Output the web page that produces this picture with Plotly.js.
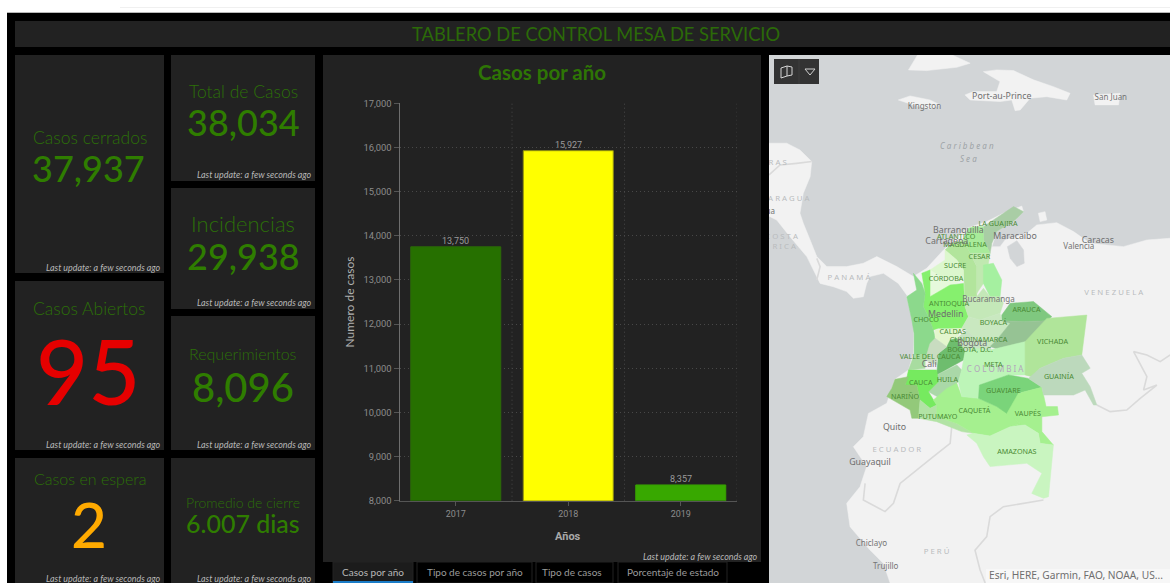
<!DOCTYPE html>
<html lang="es">
<head>
<meta charset="utf-8">
<title>Tablero de control mesa de servicio</title>
<script src="https://cdn.plot.ly/plotly-3.0.1.min.js"></script>
<style>html,body{margin:0;padding:0;background:#fff;overflow:hidden}#tablero{width:1170px;height:583px}</style>
</head>
<body>
<div id="tablero"></div>
<script>
// Casos por año
const anios = ['2017', '2018', '2019'];
const casosPorAnio = [13750, 15927, 8357];
const ticksCasos = [8000, 9000, 10000, 11000, 12000, 13000, 14000, 15000, 16000, 17000];

// Indicadores
const tarjetas = ['Casos cerrados', 'Total de Casos', 'Incidencias', 'Casos Abiertos', 'Requerimientos', 'Casos en espera', 'Promedio de cierre'];
const valoresTarjetas = ['37,937', '38,034', '29,938', '95', '8,096', '2', '6.007 dias'];
const pestanas = ['Casos por año', 'Tipo de casos por año', 'Tipo de casos', 'Porcentaje de estado'];

// Contornos del mapa base, [longitud, latitud]
const centroamerica = [[-86,16.12],[-84.66,16.12],[-83.9,15.73],[-83.23,15.07],[-83.32,14.21],[-83.71,13.26],[-83.9,12.12],[-83.71,11.54],[-83.32,10.59],[-82.94,9.64],[-82.37,9.07],[-81.23,9.07],[-80.28,9.26],[-79.51,9.64],[-78.37,9.07],[-77.42,8.5],[-77.23,7.54],[-77.8,7.45],[-78.28,8.11],[-79.13,8.69],[-79.9,8.5],[-80.09,8.11],[-80.28,7.35],[-80.85,7.26],[-81.23,7.64],[-81.99,7.92],[-82.75,8.11],[-83.13,8.88],[-83.51,9.64],[-84.47,10.78],[-85.23,11.73],[-86,12.12]];
const suramerica = [[-77.42,8.5],[-76.66,8.97],[-75.7,10.02],[-74.37,11.26],[-73.23,11.64],[-72.28,12.12],[-71.23,12.53],[-71.13,12.21],[-71.61,11.73],[-72.66,11.07],[-72.94,10.21],[-72.47,10.21],[-72.18,10.59],[-70.94,10.97],[-70.37,11.45],[-69.23,11.58],[-68.27,11.07],[-67.32,10.4],[-65.42,10.21],[-64.08,10.59],[-62.75,10.69],[-62,10.69],[-62,-10],[-78.75,-10],[-78.75,-9.01],[-79.13,-7.89],[-79.9,-7.13],[-81.04,-5.79],[-81.23,-4.46],[-80.47,-3.51],[-80.09,-2.36],[-80.85,-1.22],[-80.28,-0.65],[-79.99,0.68],[-78.94,1.26],[-78.66,2.11],[-78.47,2.63],[-77.7,3.16],[-77.42,4.11],[-77.38,5.64],[-77.8,7.35]];
const jamaica = [[-78.28,18.59],[-77.61,18.82],[-76.47,18.59],[-75.89,18.31],[-76.47,18.06],[-77.42,18.31]];
const cuba = [[-77.7,20.31],[-77.1,21.3],[-75.5,21.3],[-74.18,20.69],[-74.94,20.46],[-76.66,20.27]];
const lahispaniola = [[-73.42,20.21],[-72.66,20.31],[-71.7,20.27],[-70.56,19.74],[-69.42,19.35],[-68.47,18.97],[-68.66,18.59],[-69.8,18.78],[-70.75,18.69],[-71.32,18.02],[-71.61,17.98],[-71.8,18.59],[-72.47,18.5],[-74.18,18.59],[-74.47,18.88],[-73.99,19.07],[-72.66,19.07],[-72.47,19.64]];
const puertoRico = [[-67.13,18.88],[-65.61,18.97],[-65.7,18.31],[-67.04,18.31]];
const aruba = [[-70.28,12.12],[-69.9,12.21],[-69.8,11.73],[-70.18,11.64]];
const lagoMaracaibo = [[-72.05,10.21],[-71.51,10.55],[-71.13,10.02],[-71.09,9.26],[-71.51,9.07],[-71.89,9.54]];

// Fronteras entre países
const fronteraHonduras = [[-85.67,14.31],[-85.04,14.88],[-84.09,14.97],[-83.23,15.07]];
const fronteraPanama = [[-82.94,9.54],[-82.75,9.07],[-82.94,8.3]];
const fronteraEcuador = [[-75.23,-0.08],[-75.32,-1.03],[-76.28,-1.79],[-78.18,-3.32],[-78.56,-4.46],[-79.04,-4.93],[-80.28,-4.27],[-80.18,-3.32]];
const fronteraBrasil = [[-69.99,-4.27],[-72.28,-4.65],[-73.04,-5.22],[-73.23,-6.36],[-73.9,-7.13],[-73.61,-8.27],[-73.32,-9.01]];
const fronteraVenezuela = [[-66.94,1.16],[-66.18,0.78],[-65.23,0.87],[-64.46,1.54],[-63.51,2.3],[-64.27,2.02],[-64.08,2.78],[-64.84,4.21],[-64.08,4.02],[-63.32,3.64],[-62.75,4.02]];

// Departamentos de Colombia
const guajira = [[-73.42,11.35],[-72.28,12.12],[-71.7,12.5],[-71.13,12.21],[-71.61,11.73],[-72.66,11.07],[-72.94,10.4],[-73.04,9.83],[-73.42,10.59]];
const atlantico = [[-74.28,11.26],[-73.99,11.35],[-73.7,10.78],[-74.18,10.5],[-74.56,10.59]];
const magdalena = [[-73.99,11.35],[-73.42,11.35],[-73.42,10.59],[-73.04,9.83],[-74.18,9.83],[-74.56,10.59]];
const bolivar = [[-75.61,10.02],[-75.23,10.4],[-74.56,10.59],[-74.18,9.83],[-73.8,9.07],[-73.8,7.35],[-74.47,7.35],[-74.56,8.88],[-74.94,9.45]];
const cesar = [[-74.18,9.83],[-73.04,9.83],[-73.13,9.26],[-73.42,8.11],[-73.8,7.54],[-73.8,9.07]];
const sucre = [[-75.61,10.02],[-74.94,9.45],[-74.56,8.88],[-74.56,8.31],[-75.89,8.5],[-76.47,8.88],[-75.61,9.45]];
const cordoba = [[-76.47,8.88],[-75.89,8.5],[-74.56,8.31],[-75.32,8.02],[-76.47,7.35]];
const antioquia = [[-76.94,8.69],[-76.47,8.88],[-76.47,7.35],[-75.32,8.02],[-74.56,8.11],[-74.47,6.78],[-74.28,6.21],[-74.66,5.54],[-75.99,5.54],[-76.28,5.45],[-76.56,6.21],[-76.85,6.78],[-76.75,7.54]];
const choco = [[-77.42,8.69],[-76.94,8.11],[-76.75,7.54],[-76.85,6.78],[-76.56,6.21],[-76.28,5.45],[-76.09,4.69],[-76.18,4.11],[-77.38,4.02],[-77.38,5.26],[-77.51,6.02],[-77.8,7.35],[-77.23,7.73]];
const norteSantander = [[-73.42,9.16],[-72.85,9.26],[-72.37,8.31],[-72.47,7.35],[-73.04,7.35],[-73.42,8.11]];
const santander = [[-73.8,7.35],[-73.42,7.83],[-73.04,7.35],[-72.47,7.35],[-72.28,6.97],[-72.47,6.4],[-73.61,6.02],[-74.28,6.21],[-74.47,6.78],[-74.47,7.35]];
const arauca = [[-72.37,6.3],[-71.89,6.97],[-70.56,7.07],[-69.51,6.21],[-69.8,5.98],[-71.13,5.92],[-72.37,5.98]];
const boyaca = [[-74.28,6.21],[-73.61,6.02],[-72.47,6.4],[-72.37,5.98],[-71.89,5.83],[-72.66,4.88],[-73.04,4.5],[-73.8,4.88],[-74.37,5.45],[-74.66,5.54]];
const casanare = [[-72.37,5.98],[-71.13,5.92],[-69.8,5.98],[-70.18,5.26],[-71.04,4.78],[-72.47,4.31],[-73.04,4.5],[-72.66,4.88],[-71.89,5.83]];
const cundinamarca = [[-74.37,5.45],[-73.8,4.88],[-73.04,4.5],[-72.94,4.21],[-73.99,4.02],[-74.47,4.21],[-74.94,4.97]];
const caldas = [[-76.18,5.45],[-74.66,5.54],[-74.94,4.97],[-75.32,4.87],[-75.51,4.49],[-76.18,4.97]];
const tolima = [[-75.32,4.87],[-74.94,4.97],[-74.47,4.21],[-74.56,3.73],[-76.09,2.88],[-75.99,4.11],[-75.51,4.49]];
const risaralda = [[-76.47,4.68],[-76.18,4.97],[-75.51,4.49],[-75.99,4.11],[-76.09,3.45],[-76.75,3.73]];
const valle = [[-77.38,4.02],[-76.5,4.02],[-76.75,3.73],[-76.75,3.26],[-77.7,3.16]];
const huila = [[-76.09,2.88],[-74.94,3.45],[-74.66,3.16],[-74.85,2.49],[-75.89,1.54],[-76.56,1.92],[-75.99,2.49]];
const cauca = [[-77.7,3.16],[-76.09,3.16],[-75.99,2.49],[-76.56,1.92],[-76.09,1.16],[-76.47,0.97],[-77.04,1.45],[-77.23,2.3],[-77.89,2.3]];
const narino = [[-78.47,2.63],[-77.7,2.78],[-77.89,2.3],[-77.23,2.3],[-77.04,1.45],[-77.13,0.4],[-77.51,0.4],[-77.61,0.87],[-78.94,1.64],[-78.66,2.11]];
const putumayo = [[-77.04,1.45],[-76.47,0.97],[-76.09,1.16],[-76.09,0.49],[-74.94,0.11],[-73.99,-0.46],[-74.66,-0.36],[-76.09,0.21],[-77.13,0.4]];
const caqueta = [[-76.28,1.45],[-75.51,2.11],[-74.94,2.4],[-74.66,1.64],[-73.7,1.54],[-72.66,1.07],[-71.99,0.68],[-71.32,0.11],[-71.89,-0.08],[-73.04,-0.61],[-73.99,-0.46],[-74.94,0.11],[-76.09,0.49],[-76.09,1.16]];
const meta = [[-74.47,4.21],[-73.99,4.4],[-73.04,4.3],[-71.04,4.78],[-71.04,2.88],[-71.99,2.88],[-73.65,2.3],[-73.7,1.54],[-74.66,1.64],[-74.85,2.49],[-74.66,3.16],[-74.56,3.73]];
const guaviare = [[-73.65,2.3],[-71.99,2.88],[-70.85,2.68],[-70.08,2.17],[-71.42,1.83],[-71.61,1.16],[-72.08,0.68],[-72.66,1.07],[-73.7,1.54]];
const vaupes = [[-71.42,1.83],[-70.08,2.17],[-69.84,1.07],[-69.19,1.07],[-69.13,0.59],[-70.08,0.49],[-70.08,-0.36],[-69.42,-1.13],[-70.18,-1.03],[-70.28,-0.46],[-71.04,0.02],[-71.89,-0.08],[-71.32,0.11],[-72.08,0.68]];
const vichada = [[-71.04,4.78],[-69.8,6.11],[-67.51,6.3],[-67.8,4.02],[-68.85,3.83],[-70.18,3.26],[-70.66,2.78],[-71.04,2.88]];
const guainia = [[-70.85,2.68],[-70.18,3.26],[-68.85,3.83],[-67.8,4.02],[-67.32,3.26],[-67.8,2.97],[-67.32,2.21],[-66.94,1.16],[-67.13,1.16],[-67.61,2.02],[-68.27,1.73],[-69.99,1.73],[-70.08,2.17]];
const amazonas = [[-74.37,-0.55],[-73.99,-0.46],[-73.04,-0.61],[-71.89,-0.08],[-71.04,0.02],[-70.28,-0.46],[-70.18,-1.03],[-69.42,-1.13],[-69.7,-4.08],[-69.99,-4.17],[-70.66,-3.89],[-70.08,-2.74],[-70.94,-2.17],[-73.04,-2.36],[-73.42,-1.79],[-73.8,-1.03]];

// Etiquetas del mapa: [texto, longitud, latitud]
const ciudadesMayores = [['Port-au-Prince',-72.37,18.77],['Barranquilla',-74.85,11.09],['Cartagena',-75.51,10.5],['Maracaibo',-71.61,10.76],['Caracas',-66.88,10.57],['Medellin',-75.57,6.3],['Bogota',-74.06,4.65],['Cali',-76.52,3.48],['Quito',-78.5,-0.17],['Guayaquil',-79.9,-2.14]];
const ciudadesMenores = [['Kingston',-76.79,18.2],['San Juan',-66.14,18.7],['Valencia',-67.97,10.21],['Bucaramanga',-73.13,7.16],['Chiclayo',-79.82,-6.77],['Trujillo',-79,-8.1],['Managua',-86.35,12.2]];
const departamentos = [['LA GUAJIRA',-72.58,11.52],['ATLÁNTICO',-74.98,10.74],['MAGDALENA',-74.47,10.29],['CESAR',-73.65,9.6],['SUCRE',-75.04,9.12],['CÓRDOBA',-75.55,8.36],['ANTIOQUIA',-75.38,6.91],['ARAUCA',-70.96,6.57],['CHOCÓ',-76.69,5.98],['BOYACÁ',-72.85,5.81],['CALDAS',-75.17,5.33],['CUNDINAMARCA',-73.7,4.84],['BOGOTÁ, D.C.',-74.18,4.32],['VALLE DEL CAUCA',-76.47,3.88],['HUILA',-75.48,2.57],['CAUCA',-77,2.38],['NARIÑO',-77.9,1.58],['PUTUMAYO',-76.03,0.47],['CAQUETÁ',-73.93,0.82],['META',-72.85,3.41],['GUAVIARE',-72.28,1.94],['VAUPÉS',-70.88,0.63],['VICHADA',-69.47,4.74],['GUAINÍA',-69.11,2.74],['AMAZONAS',-71.51,-1.54]];
const paises = [['H O N D U R A S',-86.3,15.0],['N I C A R A G U A',-85.1,12.95],['C O S T A',-84.95,10.75],['R I C A',-84.8,10.2],['P A N A M Á',-81.1,8.43],['V E N E Z U E L A',-65.97,7.53],['E C U A D O R',-78.37,-1.41],['P E R Ú',-76.1,-7.22]];
const marCaribe = [['C a r i b b e a n',-74.37,15.9],['S e a',-74.28,15.15]];

// Colores
const verdeOscuro = '#267000', verdeClaro = '#38a800', amarillo = '#ffff00';
const colorTarjeta = '#222222';
const colorEtiqueta = '#2c7008', colorValor = '#2f7d00';
const mar = '#d2d5d7', tierra = '#f2f2f2', frontera = '#dadada';

const coloresDepartamentos = [
  [guajira, '#a9cda5'], [atlantico, '#a3e89b'], [magdalena, '#a8eb9a'], [bolivar, '#b2e59c'],
  [cesar, '#c0e9b0'], [sucre, '#dcf7cd'], [cordoba, '#e6f9dc'], [antioquia, '#86f06e'],
  [choco, '#8cd98c'], [norteSantander, '#a5f0a0'], [santander, '#c4e8b8'], [arauca, '#7fc87f'],
  [boyaca, '#c9e8c0'], [casanare, '#96c394'], [cundinamarca, '#c8e3c3'], [caldas, '#e3f6cd'],
  [tolima, '#6ebd6e'], [risaralda, '#c8dcc0'], [valle, '#a8dca0'], [huila, '#aad8a8'],
  [cauca, '#76ea5f'], [narino, '#93c97a'], [putumayo, '#b2e3a5'], [caqueta, '#a5f08f'],
  [meta, '#bdf5b8'], [guaviare, '#7ad47a'], [vaupes, '#a5f08f'], [vichada, '#b0e59a'],
  [guainia, '#bcd9bc'], [amazonas, '#c9f5c0']
];

const ANCHO = 1170, ALTO = 583;
const fx = x => x / ANCHO;
const fy = y => 1 - y / ALTO;

// Relleno en el mapa a partir de un contorno
function contorno(poligono, color, borde) {
  return {
    type: 'scatter', mode: 'lines', xaxis: 'x2', yaxis: 'y2',
    x: poligono.map(p => p[0]).concat(poligono[0][0]),
    y: poligono.map(p => p[1]).concat(poligono[0][1]),
    fill: 'toself', fillcolor: color,
    line: { color: borde || color, width: 0.5 },
    hoverinfo: 'skip', showlegend: false
  };
}
function linea(puntos) {
  return {
    type: 'scatter', mode: 'lines', xaxis: 'x2', yaxis: 'y2',
    x: puntos.map(p => p[0]), y: puntos.map(p => p[1]),
    line: { color: frontera, width: 1.6 }, hoverinfo: 'skip', showlegend: false
  };
}
function rotulos(lista, fuente) {
  return {
    type: 'scatter', mode: 'text', xaxis: 'x2', yaxis: 'y2',
    x: lista.map(r => r[1]), y: lista.map(r => r[2]), text: lista.map(r => r[0]),
    textposition: 'middle center', textfont: fuente, hoverinfo: 'skip', showlegend: false
  };
}

const trazas = [{
  type: 'bar', x: anios, y: casosPorAnio,
  marker: { color: [verdeOscuro, amarillo, verdeClaro], line: { color: ['#2c6a08', '#8f8f10', '#38a000'], width: 1 } },
  width: 0.8,
  hoverinfo: 'skip', showlegend: false
}];

const letraMapa = 'Noto Sans, sans-serif';
[centroamerica, suramerica, jamaica, cuba, lahispaniola, puertoRico, aruba].forEach(p => trazas.push(contorno(p, tierra)));
trazas.push(contorno(lagoMaracaibo, mar));
[fronteraHonduras, fronteraPanama, fronteraEcuador, fronteraBrasil, fronteraVenezuela].forEach(l => trazas.push(linea(l)));
coloresDepartamentos.forEach(d => trazas.push(contorno(d[0], d[1])));
trazas.push(rotulos(paises, { family: letraMapa, size: 7.8, color: '#b9bcbe' }));
trazas.push(rotulos([['C O L O M B I A', -72.75, 3.14]], { family: letraMapa, size: 8, color: '#b3a4bc' }));
trazas.push(rotulos(departamentos, { family: letraMapa, size: 7.2, color: '#4a8a34' }));
trazas.push(rotulos(ciudadesMayores, { family: letraMapa, size: 8.8, color: '#6e6e6e' }));
trazas.push(rotulos(ciudadesMenores, { family: letraMapa, size: 8, color: '#747474' }));
trazas.push(rotulos(marCaribe, { family: letraMapa, size: 8, color: '#9da3a6', style: 'italic' }));

// Fondos de los paneles
function caja(x0, y0, x1, y1, color, capa) {
  return { type: 'rect', xref: 'paper', yref: 'paper', x0: fx(x0), x1: fx(x1), y0: fy(y1), y1: fy(y0),
           fillcolor: color, line: { width: 0 }, layer: capa || 'below' };
}
const paneles = [
  [15, 21, 1170, 47], [15, 55, 164, 273], [171, 55, 315, 181], [171, 188, 315, 309],
  [15, 281, 164, 450], [171, 316, 315, 450], [15, 458, 164, 583], [171, 458, 315, 583],
  [323, 55, 761, 562]
];
const formas = [caja(7, 13, 1170, 583, '#000000')];
formas.push({ type: 'line', xref: 'paper', yref: 'paper', x0: fx(7), x1: fx(1170), y0: fy(12.5), y1: fy(12.5), line: { color: '#b8b8b8', width: 1 }, layer: 'below' });
formas.push({ type: 'line', xref: 'paper', yref: 'paper', x0: fx(120), x1: fx(1170), y0: fy(7.5), y1: fy(7.5), line: { color: '#f0f0f0', width: 1 }, layer: 'below' });
paneles.forEach(p => formas.push(caja(p[0], p[1], p[2], p[3], colorTarjeta)));
formas.push(caja(769, 55, 1170, 583, mar));

// Pestañas bajo la gráfica
const cajasPestanas = [[333, 413], [417, 532], [536, 613], [618, 727]];
cajasPestanas.forEach((c, i) => {
  formas.push({ type: 'rect', xref: 'paper', yref: 'paper', x0: fx(c[0]), x1: fx(c[1]), y0: fy(583), y1: fy(562),
    fillcolor: i === 0 ? '#1c1c1c' : '#000000', line: { color: '#222222', width: 1 }, layer: 'below' });
});
formas.push(caja(333, 581, 413, 583, '#1a7cc7'));

// Líneas de la cuadrícula entre categorías
const puntosCuadricula = '1px,3px';
[0.5, 1.5, 2.5].forEach(v => formas.push({ type: 'line', xref: 'x', yref: 'paper', x0: v, x1: v, y0: fy(500.7), y1: fy(103.3), line: { color: '#484848', width: 1, dash: puntosCuadricula }, layer: 'below' }));

// Control del mapa y atribución
formas.push(caja(774, 59, 819, 84, '#333333', 'above'));
formas.push({ type: 'line', xref: 'paper', yref: 'paper', x0: fx(799), x1: fx(799), y0: fy(59), y1: fy(84), line: { color: '#3f3f3f', width: 1 }, layer: 'above' });
const ruta = pts => 'M' + pts.map(p => fx(p[0]) + ',' + fy(p[1])).join('L');
formas.push({ type: 'path', xref: 'paper', yref: 'paper', path: ruta([[805, 69], [815, 69], [810, 75]]) + 'Z', fillcolor: 'rgba(0,0,0,0)', line: { color: '#cfcfcf', width: 1 }, layer: 'above' });
formas.push({ type: 'path', xref: 'paper', yref: 'paper', path: ruta([[781, 68], [787, 66], [787, 76], [781, 78]]) + 'Z', fillcolor: 'rgba(0,0,0,0)', line: { color: '#d5d5d5', width: 1 }, layer: 'above' });
formas.push({ type: 'path', xref: 'paper', yref: 'paper', path: ruta([[787, 66], [792, 67], [792, 75], [787, 76]]), fillcolor: 'rgba(0,0,0,0)', line: { color: '#d5d5d5', width: 1 }, layer: 'above' });
formas.push(caja(986, 569, 1170, 583, '#f7f7f7', 'above'));

// Textos de los paneles
const letraTarjeta = 'Lato, sans-serif';
function texto(t, x, y, size, color, peso, extra) {
  return Object.assign({
    text: t, xref: 'paper', yref: 'paper', x: fx(x), y: fy(y), showarrow: false,
    xanchor: 'center', yanchor: 'middle',
    font: { family: letraTarjeta, size: size, color: color, weight: peso || 400 }
  }, extra || {});
}
const notas = [
  texto('TABLERO DE CONTROL MESA DE SERVICIO', 596, 34, 18.3, '#2b6a08'),
  texto(tarjetas[0], 89.5, 137, 17.5, colorEtiqueta, 300),
  texto(valoresTarjetas[0], 88.5, 168, 36, colorValor, 500),
  texto(tarjetas[1], 243, 92, 17.5, colorEtiqueta, 300),
  texto(valoresTarjetas[1], 243, 122, 36, colorValor, 500),
  texto(tarjetas[2], 243, 223, 22, colorEtiqueta, 300),
  texto(valoresTarjetas[2], 243, 256, 36, colorValor, 500),
  texto(tarjetas[3], 89.5, 308, 17.5, colorEtiqueta, 300),
  texto(valoresTarjetas[3], 88, 370, 90, '#e60000', 500),
  texto(tarjetas[4], 243, 353, 16, colorEtiqueta, 300),
  texto(valoresTarjetas[4], 243, 387, 40, colorValor, 500),
  texto(tarjetas[5], 89.5, 478, 16, colorEtiqueta, 300),
  texto(valoresTarjetas[5], 88.5, 524, 62, '#ffaa00', 500),
  texto(tarjetas[6], 243, 502, 14, colorEtiqueta, 300),
  texto(valoresTarjetas[6], 243, 523, 25, colorValor, 500),
  texto('Casos por año', 542, 72, 20.5, '#2e7505', 700),
  texto('Años', 567.5, 536, 11, '#a8a8a8', 700, { font: { family: 'Roboto, sans-serif', size: 11, color: '#a8a8a8', weight: 700 } })
];
// Etiqueta de valor sobre cada barra; en un eje de categorías la posición es el índice
anios.forEach((a, i) => notas.push({
  text: casosPorAnio[i].toLocaleString('en-US'), xref: 'x', yref: 'y', x: i, y: casosPorAnio[i],
  showarrow: false, xanchor: 'center', yanchor: 'bottom', yshift: -1,
  font: { family: 'Roboto, sans-serif', size: 9, color: '#9a9a9a' }
}));
const pies = [[162.5, 267], [313.5, 174], [313.5, 302], [162.5, 444], [313.5, 444], [162.5, 578], [313.5, 578], [759.5, 556]];
pies.forEach(p => notas.push(texto('<i>Last update: a few seconds ago</i>', p[0], p[1], 8.9, '#b8b8b8', 400, { xanchor: 'right' })));
const centrosPestanas = [373, 474.5, 572, 673];
pestanas.forEach((t, i) => notas.push(texto(t, centrosPestanas[i], 572, 10, i === 0 ? '#b8b8b8' : '#9c9c9c')));
notas.push(texto('Esri, HERE, Garmin, FAO, NOAA, US...', 1075.5, 575, 10.2, '#6f6f6f', 400, { font: { family: letraMapa, size: 10.2, color: '#6f6f6f' } }));

const ejeBase = { fixedrange: true, zeroline: false };
const layout = {
  width: ANCHO, height: ALTO, autosize: false,
  margin: { l: 0, r: 0, t: 0, b: 0 },
  paper_bgcolor: '#ffffff', plot_bgcolor: 'rgba(0,0,0,0)',
  font: { family: 'Roboto, sans-serif', color: '#9a9a9a', size: 9 },
  showlegend: false,
  xaxis: Object.assign({}, ejeBase, {
    type: 'category', domain: [fx(399.5), fx(737)], range: [-0.5, 2.5],
    showgrid: false, showline: true, linecolor: '#555555', linewidth: 1,
    ticks: 'outside', ticklen: 4, tickcolor: '#555555',
    tickfont: { family: 'Roboto, sans-serif', size: 9, color: '#8c8c8c' }
  }),
  yaxis: Object.assign({}, ejeBase, {
    domain: [fy(500.7), fy(103.3)], range: [8000, 17000],
    tickvals: ticksCasos, tickformat: ',d',
    showgrid: true, gridcolor: '#484848', griddash: puntosCuadricula, gridwidth: 1,
    showline: true, linecolor: '#6e6e6e', linewidth: 1,
    ticks: 'outside', ticklen: 5, tickcolor: '#555555',
    tickfont: { family: 'Roboto, sans-serif', size: 9.4, color: '#8c8c8c' },
    title: { text: 'Numero de casos', standoff: 6, font: { family: 'Lato, sans-serif', size: 12, color: '#b0b0b0' } }
  }),
  xaxis2: Object.assign({}, ejeBase, { domain: [fx(769), 1], range: [-85.67, -62.76], visible: false, anchor: 'y2' }),
  yaxis2: Object.assign({}, ejeBase, { domain: [0, fy(55)], range: [-9.01, 21.16], visible: false, anchor: 'x2' }),
  shapes: formas,
  annotations: notas
};

Plotly.newPlot('tablero', trazas, layout, { displayModeBar: false, staticPlot: true });
</script>
</body>
</html>
